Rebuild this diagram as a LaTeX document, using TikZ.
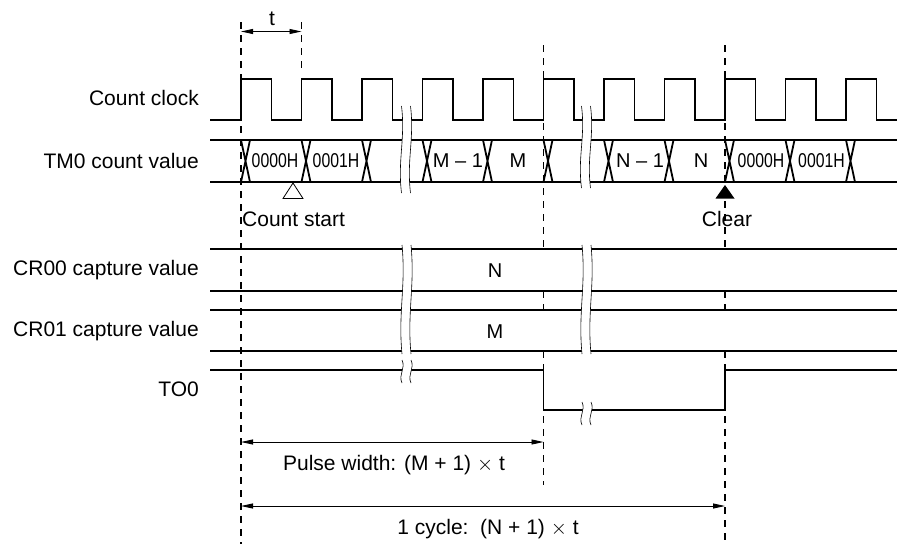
\documentclass[tikz,border=0pt]{standalone}
\usepackage{fontspec}
\setmainfont{Liberation Sans}
\usetikzlibrary{arrows.meta}
\newcommand\wavebreak[3]{%
  \pgfmathsetmacro\xa{#1-4.5}\pgfmathsetmacro\xb{#1+4.5}%
  \pgfmathsetmacro\ya{#2+0.38*(#3-#2)}\pgfmathsetmacro\yb{#3-0.38*(#3-#2)}%
  \fill[white] (\xa,#2) .. controls (\xa+4,\ya) and (\xa-4,\yb) .. (\xa,#3)
     -- (\xb,#3) .. controls (\xb-4,\yb) and (\xb+4,\ya) .. (\xb,#2) -- cycle;
  \draw[wav] (\xa,#2) .. controls (\xa+4,\ya) and (\xa-4,\yb) .. (\xa,#3);
  \draw[wav] (\xb,#2) .. controls (\xb+4,\ya) and (\xb-4,\yb) .. (\xb,#3);
}
\begin{document}
\begin{tikzpicture}[x=1pt,y=-1pt,
  sig/.style={line width=1.8pt, line join=miter},
  dsh/.style={line width=1.1pt, dash pattern=on 7pt off 6pt},
  wav/.style={line width=0.6pt},
  dim/.style={line width=0.9pt, {Triangle[length=12pt,width=5pt]}-{Triangle[length=12pt,width=5pt]}},
  lbl/.style={anchor=east, inner sep=0pt, font=\fontsize{21}{25}\selectfont},
  val/.style={inner sep=0pt, font=\fontsize{20}{24}\selectfont},
  txt/.style={inner sep=0pt, font=\fontsize{21}{25}\selectfont}]
\useasboundingbox (0,0) rectangle (898,544);

% dashed reference lines
\coordinate (d1t) at (241,22);   \coordinate (d1b) at (241,544);
\coordinate (d2t) at (301.5,22); \coordinate (d2b) at (301.5,74);
\draw[dsh] (d1t) -- (d1b);
\draw[dsh] (d2t) -- (d2b);
\draw[dsh] (543.5,45) -- (543.5,249) (543.5,291) -- (543.5,310) (543.5,351) -- (543.5,485);
\draw[dsh] (725,45) -- (725,249) (725,291) -- (725,310) (725,351) -- (725,544);

% count clock
\draw[sig] (210,120) foreach \k in {0,...,10} {
  -- ({241+60.5*\k},120) -- ({241+60.5*\k},79) -- ({271.5+60.5*\k},79) -- ({271.5+60.5*\k},120) } -- (897,120);

% TM0 count value bus
\draw[sig] (210,140) -- (897,140) (210,182) -- (897,182);
\foreach \e in {241,301.5,362,422.5,483,543.5,604,664.5,725,785.5,846}
  \draw[sig] (\e,140) -- (\e+9,182) (\e,182) -- (\e+9,140);

% CR00, CR01
\draw[sig] (210,249) -- (897,249) (210,291) -- (897,291);
\draw[sig] (210,310) -- (897,310) (210,351) -- (897,351);

% TO0
\draw[sig] (210,370) -- (543.5,370) -- (543.5,410) -- (725,410) -- (725,370) -- (897,370);

% breaks
\wavebreak{406}{106}{193}
\wavebreak{586}{106}{188}
\wavebreak{406.5}{245}{354}
\wavebreak{586.5}{245}{354}
\wavebreak{406.5}{360}{383}
\wavebreak{586.5}{402}{425}

% labels
\node[lbl] (lclk) at (199,98) {Count clock};
\node[lbl] (ltm) at (199,161) {TM0 count value};
\node[lbl] (lcr0) at (199,270) {CR00 capture value};
\node[lbl] (lcr1) at (199,331) {CR01 capture value};
\node[lbl] (lto) at (199,389) {TO0};

% values
\node[val] (v1) at (275,161) {\scalebox{0.79}[1]{0000H}};
\node[val] (v2) at (336,161) {\scalebox{0.79}[1]{0001H}};
\node[val] (v3) at (458,161) {M -- 1};
\node[val] (v4) at (518,161) {M};
\node[val] (v5) at (640,161) {N -- 1};
\node[val] (v6) at (701,161) {N};
\node[val] (v7) at (761,161) {\scalebox{0.79}[1]{0000H}};
\node[val] (v8) at (821.5,161) {\scalebox{0.79}[1]{0001H}};
\node[val] (vn) at (495,271) {N};
\node[val] (vm) at (495,332) {M};

% markers
\draw[line width=0.8pt] (293,183) -- (283,198.5) -- (303,198.5) -- cycle;
\fill (725,185) -- (715.5,198.5) -- (734.5,198.5) -- cycle;
\node[txt, anchor=west] (cs) at (242,219) {Count start};
\node[txt] (clr) at (727,219) {Clear};

% t dimension
\node[txt] (tl) at (272,19) {t};
\coordinate (ta) at (241,31.5); \coordinate (tb) at (301.5,31.5);
\draw[dim] (ta) -- (tb);

% pulse width and cycle
\coordinate (pa) at (241,442); \coordinate (pb) at (543.5,442);
\draw[dim] (pa) -- (pb);
\node[txt] (pl) at (394,465) {Pulse width: (M + 1) $\times$ t};
\coordinate (ca) at (241,506); \coordinate (cb) at (725,506);
\draw[dim] (ca) -- (cb);
\node[txt] (cl) at (488,529) {1 cycle:\ \ (N + 1) $\times$ t};
\end{tikzpicture}
\end{document}
